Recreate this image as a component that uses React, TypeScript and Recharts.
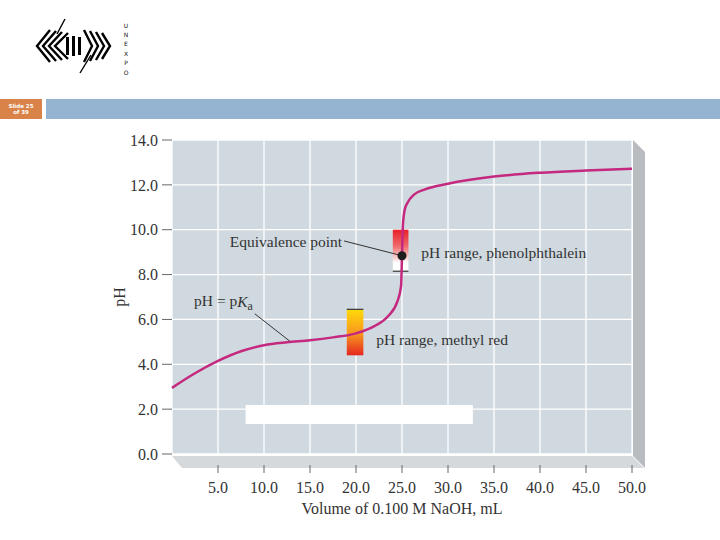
import React from 'react';
import {
  LineChart, Line, XAxis, YAxis, CartesianGrid, ReferenceArea, ReferenceDot, ReferenceLine,
} from 'recharts';

// titration curve
const volume = [0, 2.5, 5, 7.5, 10, 12.5, 15, 17.5, 20, 22, 23.5, 24.5, 24.9, 25, 25.1, 25.3, 25.6, 26.3, 27.5, 30, 35, 40, 45, 50];
const ph = [2.95, 3.6, 4.15, 4.58, 4.85, 4.98, 5.07, 5.2, 5.38, 5.7, 6.15, 6.8, 7.5, 8.84, 10.2, 10.9, 11.2, 11.56, 11.8, 12.05, 12.37, 12.54, 12.64, 12.72];

const xTicks = [5, 10, 15, 20, 25, 30, 35, 40, 45, 50];
const yTicks = [0, 2, 4, 6, 8, 10, 12, 14];

const equivalence = {v: 25, ph: 8.84};
const methylRed = {v1: 19, v2: 20.8, lo: 4.4, hi: 6.45};
const phenol = {v1: 24, v2: 25.7, lo: 8.15, hi: 10.0};
const cover = {v1: 8, v2: 32.7, lo: 1.34, hi: 2.19};

const data = volume.map((v, i) => ({v, ph: ph[i]}));

const serif = '"Liberation Serif", "Times New Roman", serif';
const textColor = '#333';

const XTick = (props: any) => {
  const {x, y, payload} = props;
  return (
    <g>
      <line x1={x} x2={x} y1={y + 11} y2={y + 19} stroke="#666" strokeWidth={1} />
      <text x={x} y={y + 33} textAnchor="middle" dominantBaseline="central"
        fontFamily={serif} fontSize={16} fill={textColor}>
        {Number(payload.value).toFixed(1)}
      </text>
    </g>
  );
};

// the 3D shelf under and to the right of the plot
const Shelf = (props: any) => {
  const {x, y, width, height} = props;
  const b = y + height;
  const r = x + width;
  return (
    <g>
      <polygon points={`${x},${b + 2} ${r},${b + 2} ${r + 12},${b + 14} ${x + 10},${b + 14}`} fill="#d6d9dc" />
      <polygon points={`${r + 1},${y} ${r + 13},${y + 12} ${r + 13},${b + 14} ${r + 1},${b + 2}`} fill="#b8bbbf" />
    </g>
  );
};

const IndicatorBar = (props: any) => {
  const {x, y, width, height, grad, edge} = props;
  const ey = edge === 'top' ? y : y + height;
  return (
    <g>
      <rect x={x} y={y} width={width} height={height} fill={`url(#${grad})`} />
      <line x1={x} x2={x + width} y1={ey} y2={ey} stroke="#333" strokeWidth={1.2} />
    </g>
  );
};

const note = (value: string, position: 'left' | 'right') => ({
  value, position, offset: 0, fontFamily: serif, fontSize: 15.5, fill: textColor,
});

const PkaLabel = (props: any) => {
  const {viewBox} = props;
  return (
    <text x={viewBox.x} y={viewBox.y} dominantBaseline="central" fontFamily={serif} fontSize={15.5} fill={textColor}>
      pH = p<tspan fontStyle="italic">K</tspan><tspan dy={5} fontSize={12}>a</tspan>
    </text>
  );
};

const Logo = () => (
  <svg width={720} height={130} style={{position: 'absolute', left: 0, top: 0}}>
    {[0, 1, 2, 3].map(i => (
      <polyline key={'l' + i} points={`${50 + 6 * i},${30 + i} ${37 + 6 * i},46 ${50 + 6 * i},${62 - i}`}
        fill="none" stroke="#000" strokeWidth={2.4} />
    ))}
    {[0, 1, 2].map(i => (
      <rect key={'m' + i} x={66 + 6 * i} y={37 + (i === 1 ? -1 : 0)} width={3} height={18 + (i === 1 ? 2 : 0)} fill="#000" />
    ))}
    {[0, 1, 2, 3].map(i => (
      <polyline key={'r' + i} points={`${84 + 6 * i},${62 - i} ${92 + 6 * i},46 ${84 + 6 * i},${30 + i}`}
        fill="none" stroke="#000" strokeWidth={2.4} />
    ))}
    <line x1={65} y1={19} x2={57} y2={34} stroke="#000" strokeWidth={1.4} />
    <line x1={80} y1={73} x2={91} y2={55} stroke="#000" strokeWidth={1.4} />
    {'UNEXPO'.split('').map((c, i) => (
      <text key={c + i} x={126} y={25 + i * 9.4} textAnchor="middle" dominantBaseline="central"
        fontFamily="DejaVu Sans" fontSize={6} fill="#111">{c}</text>
    ))}
    <rect x={0} y={99} width={42} height={20} fill="#d98349" />
    <rect x={46} y={99} width={674} height={20} fill="#95b4d1" />
    <text x={21} y={106} textAnchor="middle" dominantBaseline="central" fontFamily="DejaVu Sans" fontWeight="bold" fontSize={5.5} fill="#fff">Slide 25</text>
    <text x={21} y={112} textAnchor="middle" dominantBaseline="central" fontFamily="DejaVu Sans" fontWeight="bold" fontSize={5.5} fill="#fff">of 39</text>
  </svg>
);

export default function App() {
  return (
    <div style={{position: 'absolute', left: 0, top: 0, width: 720, height: 540, background: '#fff', overflow: 'hidden'}}>
      <Logo />
      <div style={{position: 'absolute', left: 0, top: 0}}>
        <LineChart width={720} height={540} data={data} margin={{top: 140, right: 88, bottom: 26, left: 112}}>
          <defs>
            <linearGradient id="mr" x1="0" y1="0" x2="0" y2="1">
              <stop offset="0%" stopColor="#ffdc0a" />
              <stop offset="55%" stopColor="#f7931e" />
              <stop offset="100%" stopColor="#e5261f" />
            </linearGradient>
            <linearGradient id="pp" x1="0" y1="0" x2="0" y2="1">
              <stop offset="0%" stopColor="#e8202a" />
              <stop offset="40%" stopColor="#f06a6a" />
              <stop offset="80%" stopColor="#ffffff" />
              <stop offset="100%" stopColor="#ffffff" />
            </linearGradient>
          </defs>
          <CartesianGrid fill="#d0d9df" stroke="#ffffff" strokeWidth={1.3} />
          <XAxis dataKey="v" type="number" domain={[0, 50]} ticks={xTicks} height={60}
            axisLine={false} tickLine={false} tickSize={0} tickMargin={0} tick={<XTick />}
            label={{value: 'Volume of 0.100 M NaOH, mL', position: 'insideBottom', offset: 0,
              fontFamily: serif, fontSize: 16, fill: textColor}} />
          <YAxis type="number" domain={[0, 14]} ticks={yTicks} width={60} axisLine={false}
            tickSize={10} tickMargin={4} tickLine={{stroke: '#666'}}
            tickFormatter={(t: number) => t.toFixed(1)}
            tick={{fontFamily: serif, fontSize: 16, fill: textColor}}
            label={{content: (p: any) => {
              const vb = p.viewBox;
              const cx = vb.x + 7;
              const cy = vb.y + vb.height / 2;
              return (
                <text x={cx} y={cy} transform={`rotate(-90 ${cx} ${cy})`} textAnchor="middle"
                  dominantBaseline="central" fontFamily={serif} fontSize={16} fill={textColor}>pH</text>
              );
            }}} />
          <ReferenceArea x1={0} x2={50} y1={0} y2={14} shape={<Shelf />} />
          <ReferenceArea x1={cover.v1} x2={cover.v2} y1={cover.lo} y2={cover.hi} fill="#ffffff" fillOpacity={1} stroke="none" />
          <ReferenceArea x1={methylRed.v1} x2={methylRed.v2} y1={methylRed.lo} y2={methylRed.hi}
            shape={(p: any) => <IndicatorBar {...p} grad="mr" edge="top" />} />
          <ReferenceArea x1={phenol.v1} x2={phenol.v2} y1={phenol.lo} y2={phenol.hi}
            shape={(p: any) => <IndicatorBar {...p} grad="pp" edge="bottom" />} />
          <ReferenceLine segment={[{x: 18.7, y: 9.5}, {x: equivalence.v, y: equivalence.ph}]} stroke="#333" strokeWidth={1} />
          <ReferenceLine segment={[{x: 9.0, y: 6.25}, {x: 12.9, y: 5.0}]} stroke="#333" strokeWidth={1} />
          <Line type="monotone" dataKey="ph" stroke="#c4287f" strokeWidth={2.5} dot={false} isAnimationActive={false} />
          <ReferenceDot x={equivalence.v} y={equivalence.ph} r={4.5} fill="#1e1e1e" stroke="none" />
          <ReferenceDot x={18.5} y={9.46} r={0} fill="none" stroke="none" label={note('Equivalence point', 'left')} />
          <ReferenceDot x={27.1} y={9.0} r={0} fill="none" stroke="none" label={note('pH range, phenolphthalein', 'right')} />
          <ReferenceDot x={22.2} y={5.09} r={0} fill="none" stroke="none" label={note('pH range, methyl red', 'right')} />
          <ReferenceDot x={2.4} y={6.83} r={0} fill="none" stroke="none" label={<PkaLabel />} />
        </LineChart>
      </div>
    </div>
  );
}
